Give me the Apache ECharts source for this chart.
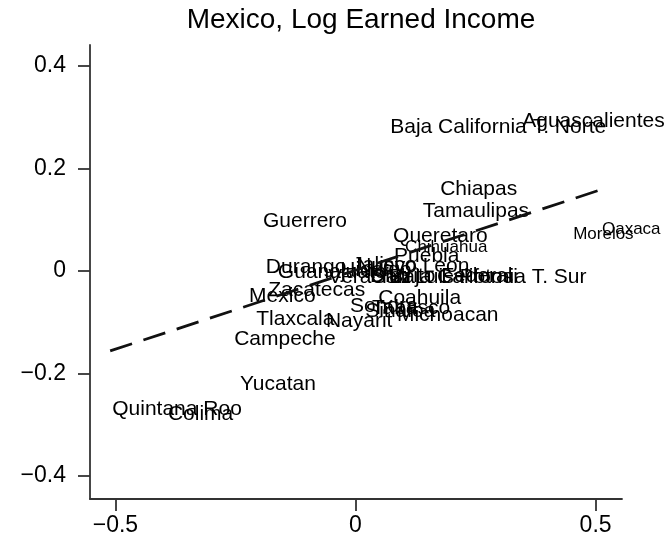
<!DOCTYPE html>
<html>
<head>
<meta charset="utf-8">
<script src="https://cdn.jsdelivr.net/npm/echarts@6/dist/echarts.min.js"></script>
<style>
  html, body { margin: 0; padding: 0; background: #fff; }
  #chart { width: 666px; height: 541px; }
</style>
</head>
<body>
<div id="chart"></div>
<script>
// state labels and their (x, y) values
const states = ['Aguascalientes', 'Baja California T. Norte', 'Chiapas', 'Tamaulipas', 'Guerrero',
  'Queretaro', 'Chihuahua', 'Puebla', 'Morelos', 'Oaxaca', 'Durango', 'Guanajuato', 'Jalisco',
  'Nuevo Leon', 'Hidalgo', 'Veracruz', 'San Luis Potosi', 'Distrito Federal', 'Tabasco',
  'Baja California T. Sur', 'Coahuila', 'Sonora', 'Sinaloa', 'Michoacan', 'Zacatecas', 'Mexico',
  'Tlaxcala', 'Nayarit', 'Campeche', 'Yucatan', 'Quintana Roo', 'Colima']
const xVals = [0.343, 0.068, 0.172, 0.136, -0.197,
  0.074, 0.099, 0.076, 0.449, 0.509, -0.191, -0.166, -0.011,
  -0.003, -0.036, -0.061, 0.030, 0.026, 0.030,
  0.066, 0.043, -0.016, 0.016, 0.082, -0.186, -0.226,
  -0.211, -0.066, -0.257, -0.245, -0.511, -0.395]
const yVals = [0.293, 0.281, 0.160, 0.117, 0.098,
  0.068, 0.047, 0.029, 0.072, 0.082, 0.008, -0.002, 0.012,
  0.010, 0.002, -0.012, -0.012, -0.010, -0.072,
  -0.012, -0.053, -0.068, -0.078, -0.086, -0.037, -0.049,
  -0.094, -0.098, -0.133, -0.220, -0.269, -0.279]
// fitted line end points
const fitX = [-0.511, 0.509]
const fitY = [-0.156, 0.158]
const xTicks = [-0.5, 0, 0.5]
const yTicks = [-0.4, -0.2, 0, 0.2, 0.4]

let myChart = echarts.init(document.getElementById('chart'))
let smallNames = ['Chihuahua', 'Morelos', 'Oaxaca']
let fmt = v => (v < 0 ? '\u2212' : '') + Math.abs(v)
let axisColor = '#333'
let font = 'Liberation Sans'

myChart.setOption({
    animation: false,
    title: {
        text: 'Mexico, Log Earned Income',
        left: 356,
        textAlign: 'center',
        top: 1,
        textStyle: { fontFamily: font, fontSize: 28, fontWeight: 'normal', color: '#000' }
    },
    grid: { left: 90, right: 44, top: 45, bottom: 42 },
    xAxis: {
        type: 'value',
        min: -0.553,
        max: 0.555,
        splitLine: { show: false },
        axisLine: { onZero: false, lineStyle: { color: axisColor, width: 1.8 } },
        axisTick: { show: true, length: 12, customValues: xTicks, lineStyle: { color: axisColor, width: 1.8 } },
        axisLabel: { customValues: xTicks, formatter: fmt, fontFamily: font, fontSize: 23, color: '#000', margin: 15 }
    },
    yAxis: {
        type: 'value',
        min: -0.445,
        max: 0.441,
        splitLine: { show: false },
        axisLine: { show: true, onZero: false, lineStyle: { color: axisColor, width: 1.8 } },
        axisTick: { show: true, length: 12, customValues: yTicks, lineStyle: { color: axisColor, width: 1.8 } },
        axisLabel: { customValues: yTicks, formatter: fmt, fontFamily: font, fontSize: 23, color: '#000', margin: 24 }
    },
    series: [
        {
            type: 'scatter',
            symbolSize: 0.1,
            itemStyle: { color: '#000', opacity: 0 },
            label: {
                show: true,
                position: 'right',
                distance: 2,
                formatter: p => p.name,
                fontFamily: font,
                fontSize: 21,
                color: '#000',
                opacity: 1
            },
            data: states.map((s, i) => ({
                name: s,
                value: [xVals[i], yVals[i]],
                label: smallNames.includes(s) ? { fontSize: 17 } : undefined
            }))
        },
        {
            type: 'line',
            showSymbol: false,
            lineStyle: { type: [23, 12], width: 2.8, color: '#111' },
            data: fitX.map((x, i) => [x, fitY[i]])
        }
    ]
})
</script>
</body>
</html>
